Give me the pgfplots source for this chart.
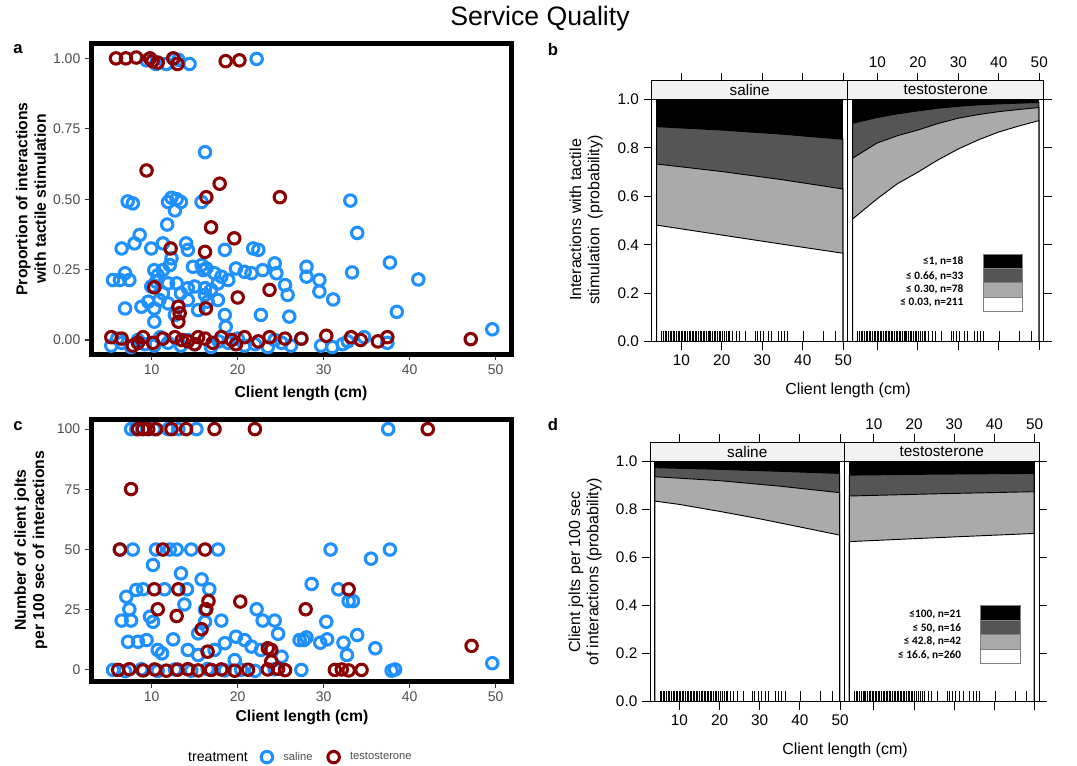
\documentclass[border=0pt]{standalone}
\usepackage{pgfplots}
\pgfplotsset{compat=1.18}
\usepackage{pgfplotstable}
\usepackage{fontspec}
\setmainfont{Liberation Sans}
\newfontfamily\calib{Carlito}
\definecolor{salineC}{RGB}{30,144,255}
\definecolor{testoC}{RGB}{139,0,0}
\definecolor{tickC}{RGB}{51,51,51}
\definecolor{labC}{RGB}{77,77,77}
\definecolor{stripC}{RGB}{242,242,242}
\definecolor{darkF}{RGB}{85,85,85}
\definecolor{lightF}{RGB}{170,170,170}

% panel a: proportion with tactile stimulation
\pgfplotstableread{
x y
9.4 0.993
10.5 0.98
11.7 0.98
12.6 0.998
13.1 0.995
14.4 0.98
22.2 0.998
16.2 0.667
7.2 0.492
7.8 0.485
11.9 0.49
12.3 0.505
12.9 0.50
13.4 0.49
15.8 0.49
12.7 0.46
33.1 0.495
11.8 0.41
33.9 0.38
8.6 0.373
8.0 0.343
6.5 0.325
9.95 0.325
11.3 0.343
14.0 0.343
14.2 0.32
18.5 0.32
21.8 0.325
22.4 0.32
12.3 0.29
12.1 0.266
11.3 0.248
10.7 0.23
10.3 0.248
14.8 0.26
15.8 0.266
16.35 0.254
16.0 0.248
17.3 0.237
18.1 0.225
18.9 0.213
19.8 0.254
20.8 0.242
21.6 0.237
22.9 0.248
24.3 0.272
24.5 0.237
25.5 0.195
25.8 0.16
28.0 0.26
28.0 0.225
29.5 0.213
29.5 0.172
31.1 0.144
33.3 0.24
37.7 0.275
41.0 0.215
38.5 0.10
49.6 0.038
5.5 0.213
6.3 0.213
6.9 0.237
7.4 0.213
9.95 0.19
10.5 0.207
11.9 0.201
12.9 0.201
14.2 0.184
15.0 0.19
16.2 0.184
16.9 0.178
17.7 0.201
6.9 0.112
8.8 0.118
9.6 0.136
10.3 0.112
10.9 0.142
11.9 0.13
12.7 0.089
14.2 0.142
15.4 0.106
16.5 0.136
17.7 0.142
18.5 0.089
22.7 0.089
26.0 0.083
11.3 0.166
13.4 0.166
16.2 0.16
10.3 0.065
18.6 0.047
5.3 -0.02
6.0 0.005
6.5 -0.01
7.6 -0.025
8.4 0.0
9.2 -0.015
10.3 -0.02
11.0 0.01
11.9 -0.01
13.4 -0.02
14.2 0.0
15.0 -0.015
16.9 -0.025
17.8 -0.005
18.9 -0.01
20.0 0.005
20.8 -0.02
22.0 -0.015
23.5 -0.025
24.3 0.0
25.1 -0.01
26.2 -0.02
27.4 0.005
29.7 -0.02
31.0 -0.025
32.2 -0.015
32.8 -0.005
34.7 0.01
37.4 -0.01
}\aSal
\pgfplotstableread{
x y
5.85 1.0
7.0 1.0
8.2 1.003
9.8 1.0
10.1 0.99
10.7 0.985
12.5 1.0
13.0 0.98
18.6 0.99
20.2 0.993
9.4 0.602
17.9 0.555
16.35 0.507
24.9 0.507
16.9 0.40
19.6 0.361
12.2 0.325
16.2 0.313
10.3 0.187
23.7 0.178
20.0 0.151
13.1 0.118
13.25 0.095
13.1 0.065
16.3 0.112
5.3 0.01
6.5 0.005
7.8 -0.02
8.4 -0.01
9.0 0.01
10.15 -0.01
11.3 0.005
12.7 0.01
13.5 0.0
14.2 -0.005
15.0 -0.015
15.4 0.01
16.2 0.005
17.1 -0.01
18.1 0.01
19.3 0.0
19.8 -0.015
20.8 0.01
22.4 -0.005
23.7 0.01
25.5 0.005
27.4 0.005
30.3 0.015
33.2 0.01
34.3 0.0
36.3 -0.005
37.4 0.01
47.1 0.003
}\aTes

% panel c: client jolts per 100 sec
\pgfplotstableread{
x y
7.6 100
8.2 100
10.3 100
11.9 100
13.1 100
15.2 100
37.5 100
6.3 50
7.8 50
10.5 50
12.1 50
12.9 50
14.6 50
17.7 50
30.8 50
37.7 50
35.5 46.2
10.15 43.6
13.4 40.1
15.8 37.6
28.6 35.7
16.7 33.5
7.05 30.4
8.2 33.2
9.0 33.5
11.5 33.5
14.1 33.5
31.7 33.5
32.9 28.6
33.4 28.6
7.4 25.2
6.5 20.5
7.6 20.5
9.8 22.1
10.15 20.0
13.8 27.2
18.1 20.5
22.2 25.2
22.9 20.5
24.3 20.5
24.7 15.0
30.3 20.0
16.2 25.0
16.2 20.0
7.25 11.7
8.4 11.7
9.4 12.4
10.7 8.3
12.5 12.7
14.2 8.3
15.4 15.2
17.3 8.3
18.5 11.1
19.8 13.8
20.8 12.4
21.6 9.7
22.7 8.3
25.1 5.5
27.2 12.4
19.65 4.1
27.7 12.4
28.0 13.5
29.6 11.3
30.4 12.7
32.3 11.3
32.7 6.2
33.9 14.5
36.0 9.0
49.6 2.8
11.2 6.9
15.4 6.2
5.5 0
6.9 -0.5
8.8 0.3
10.7 -0.4
12.7 0.2
14.6 -0.3
16.5 0.4
18.5 -0.2
20.4 0.1
22.0 -0.4
24.3 0.3
27.4 0
37.9 -0.3
38.3 0.2
}\cSal
\pgfplotstableread{
x y
8.4 100
9.0 100
9.6 100
10.5 100
12.3 100
14.0 100
17.3 100
22.0 100
42.1 100
7.6 75.1
6.3 50
11.3 50
16.2 50
10.3 33.5
13.1 33.5
32.9 33.5
16.6 28.6
20.3 28.4
10.7 25.2
16.35 25.2
27.9 25.2
12.9 22.4
15.8 16.9
16.5 7.6
23.5 9.0
23.9 8.3
23.9 3.5
47.2 10.0
6.1 0
7.4 0.3
9.0 -0.2
10.35 0.2
11.7 -0.3
13.0 0.1
14.2 0.3
15.4 -0.2
16.9 0
18.1 0.2
19.65 -0.3
21.2 0.1
23.5 0.2
24.7 0.5
25.5 -0.1
31.3 0
32.1 0.2
32.9 -0.2
34.4 0
}\cTes

% rug of client lengths
\pgfplotstableread{
x h
5.2 0.045
5.6 0.045
6.0 0.045
6.4 0.045
6.9 0.045
7.3 0.045
7.6 0.045
8.0 0.045
8.4 0.045
8.8 0.045
9.2 0.045
9.6 0.045
10.0 0.045
10.3 0.045
10.7 0.045
11.1 0.045
11.5 0.045
11.9 0.045
12.3 0.045
12.7 0.045
13.1 0.045
13.4 0.045
13.8 0.045
14.2 0.045
14.6 0.045
15.0 0.045
15.4 0.045
15.8 0.045
16.2 0.045
16.6 0.045
16.9 0.045
17.3 0.045
17.7 0.045
18.1 0.045
18.5 0.045
18.9 0.045
19.3 0.045
19.7 0.045
20.2 0.045
20.6 0.045
21.1 0.045
21.6 0.045
22.0 0.045
22.7 0.045
23.5 0.045
24.4 0.045
25.9 0.045
28.2 0.045
28.8 0.045
29.6 0.045
30.4 0.045
31.4 0.045
32.2 0.045
33.9 0.045
34.7 0.045
35.5 0.045
36.3 0.045
40.2 0.045
45.1 0.045
48.0 0.045
}\rug

\pgfplotsset{
  scat/.style={scale only axis, width=315pt, xmin=2.94, xmax=51.78,
    axis line style={line width=3.75pt, black},
    tick align=outside, xtick pos=left, ytick pos=left,
    major tick length=4.5pt,
    tick style={line width=0.8pt, tickC},
    xtick={10,20,30,40,50},
    tick label style={font=\fontsize{10.5}{12}\selectfont, text=labC},
    /pgf/number format/assume math mode=true,
    axis on top},
  sal/.style={only marks, mark=o, mark size=4.3pt, color=salineC, mark options={line width=2.3pt}},
  tes/.style={only marks, mark=o, mark size=4.3pt, color=testoC, mark options={line width=2.3pt}},
  latt/.style={scale only axis, xmin=2.7, xmax=51.1, ymin=0,
    axis line style={line width=0.75pt, black},
    tick align=outside, major tick length=6pt,
    tick style={line width=0.75pt, black},
    xtick={10,20,30,40,50}, ytick={0,0.2,0.4,0.6,0.8,1},
    tick label style={font=\fontsize{11.5}{13}\selectfont},
    /pgf/number format/assume math mode=true,
    axis on top},
  lfill/.style={draw=black, line width=0.7pt},
  rugp/.style={ycomb, black, line width=0.6pt, mark=none},
}

\begin{document}
\begin{tikzpicture}
\path[use as bounding box] (0,0) rectangle (807.75pt,573.75pt);

% ---------- a ----------
\begin{axis}[scat, at={(68.25pt,308.25pt)}, anchor=south west, height=232.5pt,
  ymin=-0.0497, ymax=1.051, ytick={0,0.25,0.5,0.75,1},
  yticklabels={0.00,0.25,0.50,0.75,1.00}]
\addplot[sal] table[x=x, y=y] {\aSal};
\addplot[tes] table[x=x, y=y] {\aTes};
\end{axis}

% ---------- c ----------
\begin{axis}[scat, at={(68.25pt,62.625pt)}, anchor=south west, height=196.875pt,
  ymin=-4.8, ymax=104.2, ytick={0,25,50,75,100},
  legend style={at={(axis description cs:0.395,-0.288)}, anchor=west, draw=none, fill=none,
    font=\fontsize{8.4}{10}\selectfont, text=labC, legend columns=2,
    /tikz/every even column/.append style={column sep=9.5pt}}]
\addplot[sal] table[x=x, y=y] {\cSal};
\addlegendentry{\hspace{6pt}saline}
\addplot[tes] table[x=x, y=y] {\cTes};
\addlegendentry{\hspace{6pt}testosterone}
\end{axis}

% ---------- b, saline ----------
\begin{axis}[latt, at={(488.78pt,317.475pt)}, anchor=south west, width=147pt, height=195.75pt,
  ymax=1.0767, xtick pos=both, xticklabel pos=left, ytick pos=left,
  yticklabels={0.0,0.2,0.4,0.6,0.8,1.0}]
\addplot[lfill, fill=black] coordinates {(3.9,0) (3.9,1) (49.9,1) (49.9,0)} -- cycle;
\addplot[lfill, fill=darkF] coordinates {(3.9,0) (3.9,0.887) (20,0.873) (35,0.856) (49.9,0.835) (49.9,0)} -- cycle;
\addplot[lfill, fill=lightF] coordinates {(3.9,0) (3.9,0.733) (20,0.702) (35,0.668) (49.9,0.630) (49.9,0)} -- cycle;
\addplot[lfill, fill=white] coordinates {(3.9,0) (3.9,0.481) (20,0.44) (35,0.402) (49.9,0.365) (49.9,0)} -- cycle;
\addplot[rugp] table[x=x, y=h] {\rug};
\draw[fill=stripC, line width=0.75pt] (axis cs:2.7,1) rectangle (axis cs:51.1,1.0767);
\node[font=\fontsize{11.5}{13}\selectfont] at (axis cs:26.9,1.0383) {saline};
\end{axis}

% ---------- b, testosterone ----------
\begin{axis}[latt, at={(635.78pt,317.475pt)}, anchor=south west, width=147pt, height=195.75pt,
  ymax=1.0767, xtick pos=both, xticklabel pos=right, ytick pos=right,
  yticklabels={,,,,,}]
\addplot[lfill, fill=black] coordinates {(3.9,0) (3.9,1) (49.9,1) (49.9,0)} -- cycle;
\addplot[lfill, fill=darkF] coordinates {(3.9,0) (3.9,0.901) (10,0.925) (15,0.94) (20,0.952) (25,0.963) (30,0.971) (35,0.977) (40,0.981) (45,0.984) (49.9,0.987) (49.9,0)} -- cycle;
\addplot[lfill, fill=lightF] coordinates {(3.9,0) (3.9,0.757) (10,0.82) (15,0.85) (20,0.873) (25,0.90) (30,0.922) (35,0.937) (40,0.949) (45,0.958) (49.9,0.966) (49.9,0)} -- cycle;
\addplot[lfill, fill=white] coordinates {(3.9,0) (3.9,0.506) (10,0.59) (15,0.652) (20,0.699) (25,0.75) (30,0.795) (35,0.833) (40,0.865) (45,0.89) (49.9,0.912) (49.9,0)} -- cycle;
\addplot[rugp] table[x=x, y=h] {\rug};
\draw[fill=stripC, line width=0.75pt] (axis cs:2.7,1) rectangle (axis cs:51.1,1.0767);
\node[font=\fontsize{11.5}{13}\selectfont] at (axis cs:26.9,1.0383) {testosterone};
\end{axis}

% ---------- d, saline ----------
\begin{axis}[latt, at={(487.5pt,47.475pt)}, anchor=south west, width=145.875pt, height=194.55pt,
  ymax=1.0808, xtick pos=both, xticklabel pos=left, ytick pos=left,
  yticklabels={0.0,0.2,0.4,0.6,0.8,1.0}]
\addplot[lfill, fill=black] coordinates {(3.9,0) (3.9,1) (49.9,1) (49.9,0)} -- cycle;
\addplot[lfill, fill=darkF] coordinates {(3.9,0) (3.9,0.975) (20,0.968) (35,0.96) (49.9,0.951) (49.9,0)} -- cycle;
\addplot[lfill, fill=lightF] coordinates {(3.9,0) (3.9,0.9375) (20,0.921) (35,0.898) (49.9,0.871) (49.9,0)} -- cycle;
\addplot[lfill, fill=white] coordinates {(3.9,0) (3.9,0.836) (10,0.822) (20,0.793) (30,0.762) (40,0.728) (49.9,0.694) (49.9,0)} -- cycle;
\addplot[rugp] table[x=x, y=h] {\rug};
\draw[fill=stripC, line width=0.75pt] (axis cs:2.7,1) rectangle (axis cs:51.1,1.0808);
\node[font=\fontsize{11.5}{13}\selectfont] at (axis cs:26.9,1.0404) {saline};
\end{axis}

% ---------- d, testosterone ----------
\begin{axis}[latt, at={(633.375pt,47.475pt)}, anchor=south west, width=145.875pt, height=194.55pt,
  ymax=1.0808, xtick pos=both, xticklabel pos=right, ytick pos=right,
  yticklabels={,,,,,}]
\addplot[lfill, fill=black] coordinates {(3.9,0) (3.9,1) (49.9,1) (49.9,0)} -- cycle;
\addplot[lfill, fill=darkF] coordinates {(3.9,0) (3.9,0.944) (25,0.948) (49.9,0.951) (49.9,0)} -- cycle;
\addplot[lfill, fill=lightF] coordinates {(3.9,0) (3.9,0.857) (25,0.866) (49.9,0.875) (49.9,0)} -- cycle;
\addplot[lfill, fill=white] coordinates {(3.9,0) (3.9,0.667) (25,0.683) (49.9,0.701) (49.9,0)} -- cycle;
\addplot[rugp] table[x=x, y=h] {\rug};
\draw[fill=stripC, line width=0.75pt] (axis cs:2.7,1) rectangle (axis cs:51.1,1.0808);
\node[font=\fontsize{11.5}{13}\selectfont] at (axis cs:26.9,1.0404) {testosterone};
\end{axis}

% ---------- text and legends, in pixel units of the reference ----------
\begin{scope}[x=0.75pt, y=-0.75pt, yshift=573.75pt]
\node[font=\fontsize{20}{24}\selectfont] at (540,19) {Service Quality};
\node[font=\bfseries\fontsize{12.5}{14}\selectfont] at (18,49) {a};
\node[font=\bfseries\fontsize{12.5}{14}\selectfont] at (553,50) {b};
\node[font=\bfseries\fontsize{12.5}{14}\selectfont] at (18,426) {c};
\node[font=\bfseries\fontsize{12.5}{14}\selectfont] at (553,425) {d};
\node[font=\bfseries\fontsize{11.8}{13.7}\selectfont] at (301,393) {Client length (cm)};
\node[font=\bfseries\fontsize{11.8}{13.7}\selectfont] at (302,717) {Client length (cm)};
\node[font=\bfseries\fontsize{11.8}{13.7}\selectfont, rotate=90, align=center] at (31,199)
  {Proportion of interactions\\with tactile stimulation};
\node[font=\bfseries\fontsize{11.8}{13.7}\selectfont, rotate=90, align=center] at (31,550)
  {Number of client jolts\\per 100 sec of interactions};
\node[font=\fontsize{10.6}{12}\selectfont] at (218,757) {treatment};
\node[font=\fontsize{12}{13.7}\selectfont] at (848,390) {Client length (cm)};
\node[font=\fontsize{12}{13.7}\selectfont] at (845,750) {Client length (cm)};
\node[font=\fontsize{12}{13.7}\selectfont, rotate=90, align=center] at (586,220)
  {Interactions with tactile\\stimulation\ \ (probability)};
\node[font=\fontsize{12}{13.7}\selectfont, rotate=90, align=center] at (585,572)
  {Client jolts per 100 sec\\of interactions (probability)};
% legend b
\fill[black] (983.3,254.3) rectangle (1022.7,268.5);
\fill[darkF] (983.3,268.5) rectangle (1022.7,282.7);
\fill[lightF] (983.3,282.7) rectangle (1022.7,296.8);
\fill[white] (983.3,296.8) rectangle (1022.7,311);
\draw[gray, line width=0.6pt] (983.3,254.3) rectangle (1022.7,311);
\draw[gray, line width=0.4pt] (983.3,268.5) -- (1022.7,268.5) (983.3,282.7) -- (1022.7,282.7) (983.3,296.8) -- (1022.7,296.8);
\begin{scope}[every node/.style={anchor=east, font=\calib\bfseries\fontsize{8.5}{9}\selectfont}]
\node at (968,261.7) {≤1, n=18};
\node at (968,276) {≤ 0.66, n=33};
\node at (968,289.3) {≤ 0.30, n=78};
\node at (968,302.7) {≤ 0.03, n=211};
\end{scope}
% legend d
\fill[black] (980.7,605.7) rectangle (1020,620.1);
\fill[darkF] (980.7,620.1) rectangle (1020,634.5);
\fill[lightF] (980.7,634.5) rectangle (1020,648.9);
\fill[white] (980.7,648.9) rectangle (1020,663.3);
\draw[gray, line width=0.6pt] (980.7,605.7) rectangle (1020,663.3);
\draw[gray, line width=0.4pt] (980.7,620.1) -- (1020,620.1) (980.7,634.5) -- (1020,634.5) (980.7,648.9) -- (1020,648.9);
\begin{scope}[every node/.style={anchor=east, font=\calib\bfseries\fontsize{8.5}{9}\selectfont}]
\node at (965.7,615) {≤100, n=21};
\node at (965.7,628.3) {≤ 50, n=16};
\node at (965.7,641.7) {≤ 42.8, n=42};
\node at (965.7,655) {≤ 16.6, n=260};
\end{scope}
\end{scope}
\end{tikzpicture}
\end{document}
